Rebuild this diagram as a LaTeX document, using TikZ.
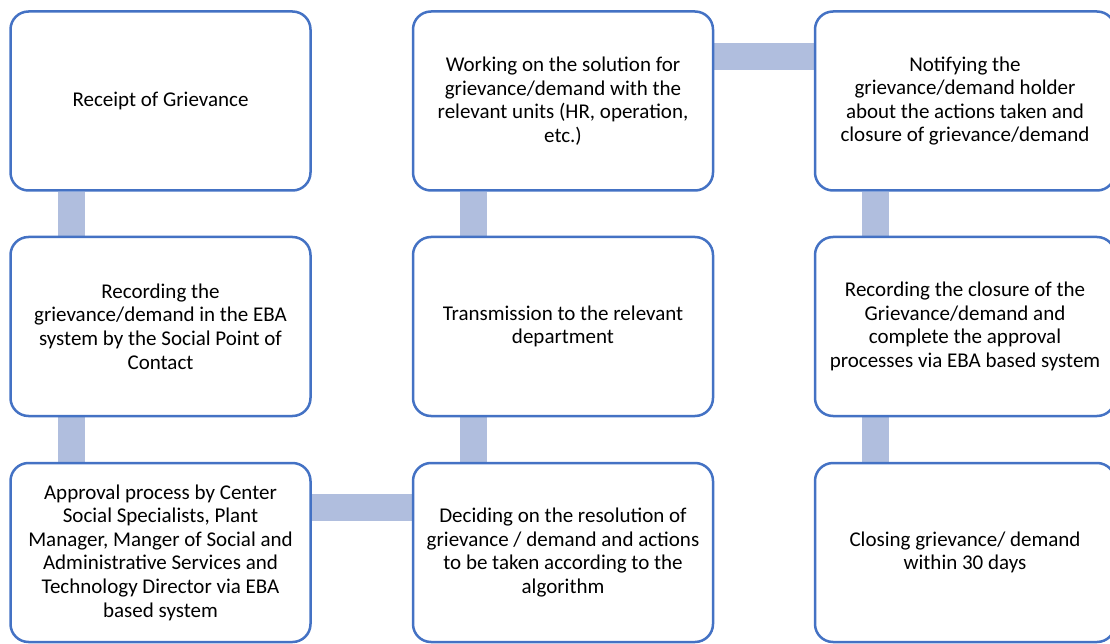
\documentclass[tikz,border=0pt]{standalone}
\usepackage{fontspec}
\setmainfont{Carlito}
\usetikzlibrary{calc,backgrounds}
\definecolor{boxline}{RGB}{68,114,196}
\definecolor{barfill}{RGB}{176,190,222}
\tikzset{
	stepbox/.style={draw=boxline, line width=2.5pt, fill=white, rounded corners=18pt,
		minimum width=300pt, minimum height=179pt, inner sep=0pt, align=center,
		font=\fontsize{21}{23.6}\selectfont},
	bar/.style={draw=barfill, line width=27pt}
}

\begin{document}
\begin{tikzpicture}[x=1pt, y=-1pt]
			%%%%% START %%%%%
			\clip (0, 0) rectangle (1110, 644);
			
			% first column
			\node[stepbox] (receipt) at (160.5, 101) {Receipt of Grievance};
			\node[stepbox] (record) at (160.5, 326.5) {Recording the\\grievance/demand in the EBA\\system by the Social Point of\\Contact};
			\node[stepbox] (approve) at (160.5, 552.5) {Approval process by Center\\Social Specialists, Plant\\Manager, Manger of Social and\\Administrative Services and\\Technology Director via EBA\\based system};
			
			% second column
			\node[stepbox] (decide) at (563, 552.5) {Deciding on the resolution of\\grievance / demand and actions\\to be taken according to the\\algorithm};
			\node[stepbox] (transmit) at (563, 326.5) {Transmission to the relevant\\department};
			\node[stepbox] (solve) at (563, 101) {Working on the solution for\\grievance/demand with the\\relevant units (HR, operation,\\etc.)};
			
			% third column
			\node[stepbox] (notify) at (965, 101) {Notifying the\\grievance/demand holder\\about the actions taken and\\closure of grievance/demand};
			\node[stepbox] (closerec) at (965, 326.5) {Recording the closure of the\\Grievance/demand and\\complete the approval\\processes via EBA based system};
			\node[stepbox] (closing) at (965, 552.5) {Closing grievance/ demand\\within 30 days};
			
			\begin{scope}[on background layer]
				\draw[bar] ($(receipt.south west)+(62, 0)$) -- ($(record.north west)+(62, 0)$);
				\draw[bar] ($(record.south west)+(62, 0)$) -- ($(approve.north west)+(62, 0)$);
				\draw[bar] ($(approve.north east)+(0, 46)$) -- ($(decide.north west)+(0, 46)$);
				\draw[bar] ($(decide.north west)+(62, 0)$) -- ($(transmit.south west)+(62, 0)$);
				\draw[bar] ($(transmit.north west)+(62, 0)$) -- ($(solve.south west)+(62, 0)$);
				\draw[bar] ($(solve.north east)+(0, 46)$) -- ($(notify.north west)+(0, 46)$);
				\draw[bar] ($(notify.south west)+(62, 0)$) -- ($(closerec.north west)+(62, 0)$);
				\draw[bar] ($(closerec.south west)+(62, 0)$) -- ($(closing.north west)+(62, 0)$);
			\end{scope}
			
			%%%%% END %%%%%
\end{tikzpicture}
\end{document}
